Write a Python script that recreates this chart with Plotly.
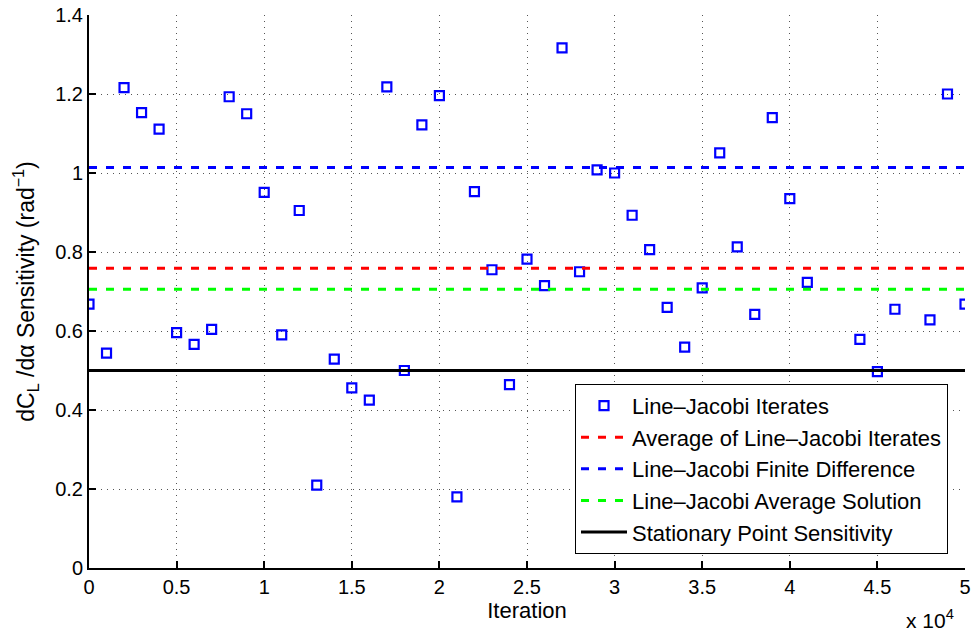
import plotly.graph_objects as go

iterations = [0, 1000, 2000, 3000, 4000, 5000, 6000, 7000, 8000, 9000,
              10000, 11000, 12000, 13000, 14000, 15000, 16000, 17000, 18000, 19000,
              20000, 21000, 22000, 23000, 24000, 25000, 26000, 27000, 28000, 29000,
              30000, 31000, 32000, 33000, 34000, 35000, 36000, 37000, 38000, 39000,
              40000, 41000, 44000, 45000, 46000, 48000, 49000, 50000]
iterates = [0.668, 0.544, 1.216, 1.153, 1.111, 0.596, 0.566, 0.604, 1.193, 1.150,
            0.951, 0.590, 0.905, 0.210, 0.529, 0.456, 0.425, 1.218, 0.500, 1.122,
            1.196, 0.180, 0.953, 0.755, 0.464, 0.782, 0.715, 1.317, 0.750, 1.008,
            1.000, 0.893, 0.806, 0.660, 0.559, 0.709, 1.051, 0.813, 0.642, 1.140,
            0.935, 0.723, 0.579, 0.497, 0.655, 0.628, 1.200, 0.668]

x_span = [0, 50000]
avg_iterates = 0.759
finite_diff = 1.014
avg_solution = 0.706
stationary = 0.500

x_tickvals = [0, 5000, 10000, 15000, 20000, 25000, 30000, 35000, 40000, 45000, 50000]
x_ticktext = ["0", "0.5", "1", "1.5", "2", "2.5", "3", "3.5", "4", "4.5", "5"]
y_tickvals = [0, 0.2, 0.4, 0.6, 0.8, 1.0, 1.2, 1.4]
y_ticktext = ["0", "0.2", "0.4", "0.6", "0.8", "1", "1.2", "1.4"]

FONT = "Liberation Sans, Arial, Helvetica, sans-serif"
DASH = "8px,9px"

fig = go.Figure()
fig.add_trace(go.Scatter(x=iterations, y=iterates, mode="markers",
                         name="Line–Jacobi Iterates",
                         marker=dict(symbol="square-open", size=9, color="#0000ff",
                                     line=dict(width=2.2, color="#0000ff"))))
fig.add_trace(go.Scatter(x=x_span, y=[avg_iterates] * 2, mode="lines",
                         name="Average of Line–Jacobi Iterates",
                         line=dict(color="#ff0000", width=3, dash=DASH)))
fig.add_trace(go.Scatter(x=x_span, y=[finite_diff] * 2, mode="lines",
                         name="Line–Jacobi Finite Difference",
                         line=dict(color="#0000ff", width=3, dash=DASH)))
fig.add_trace(go.Scatter(x=x_span, y=[avg_solution] * 2, mode="lines",
                         name="Line–Jacobi Average Solution",
                         line=dict(color="#00ff00", width=3, dash=DASH)))
fig.add_trace(go.Scatter(x=x_span, y=[stationary] * 2, mode="lines",
                         name="Stationary Point Sensitivity",
                         line=dict(color="#000000", width=3)))

fig.update_layout(
    width=972, height=633,
    margin=dict(l=89, r=7, t=15, b=65, autoexpand=False),
    paper_bgcolor="white", plot_bgcolor="white",
    font=dict(family=FONT, size=20, color="black"),
    showlegend=True,
    legend=dict(x=0.5548, y=0.333, xanchor="left", yanchor="top",
                bgcolor="white", bordercolor="black", borderwidth=1,
                font=dict(size=22), itemwidth=46, tracegroupgap=0),
    xaxis=dict(range=[0, 50000], tickvals=x_tickvals, ticktext=x_ticktext,
               automargin=False,
               showline=True, linewidth=2, linecolor="black", mirror=False,
               ticks="inside", ticklen=7, tickwidth=2, tickcolor="black",
               tickfont=dict(size=20),
               showgrid=True, gridcolor="#555555", gridwidth=1, griddash="1px,5px",
               zeroline=False,
               title=dict(text="Iteration", standoff=0, font=dict(size=22))),
    yaxis=dict(range=[0, 1.4], tickvals=y_tickvals, ticktext=y_ticktext,
               automargin=False,
               showline=True, linewidth=2, linecolor="black", mirror=False,
               ticks="inside", ticklen=7, tickwidth=2, tickcolor="black",
               tickfont=dict(size=20),
               showgrid=True, gridcolor="#555555", gridwidth=1, griddash="1px,5px",
               zeroline=False,
               title=dict(text="dC<sub>L</sub> /dα Sensitivity (rad<sup>−1</sup>)",
                          standoff=14, font=dict(size=23))),
    annotations=[dict(text="x 10<sup>4</sup>", xref="paper", yref="paper",
                      x=0.99, y=-0.066, xanchor="right", yanchor="top",
                      showarrow=False, font=dict(size=21))],
)

fig.write_html("out.html")
